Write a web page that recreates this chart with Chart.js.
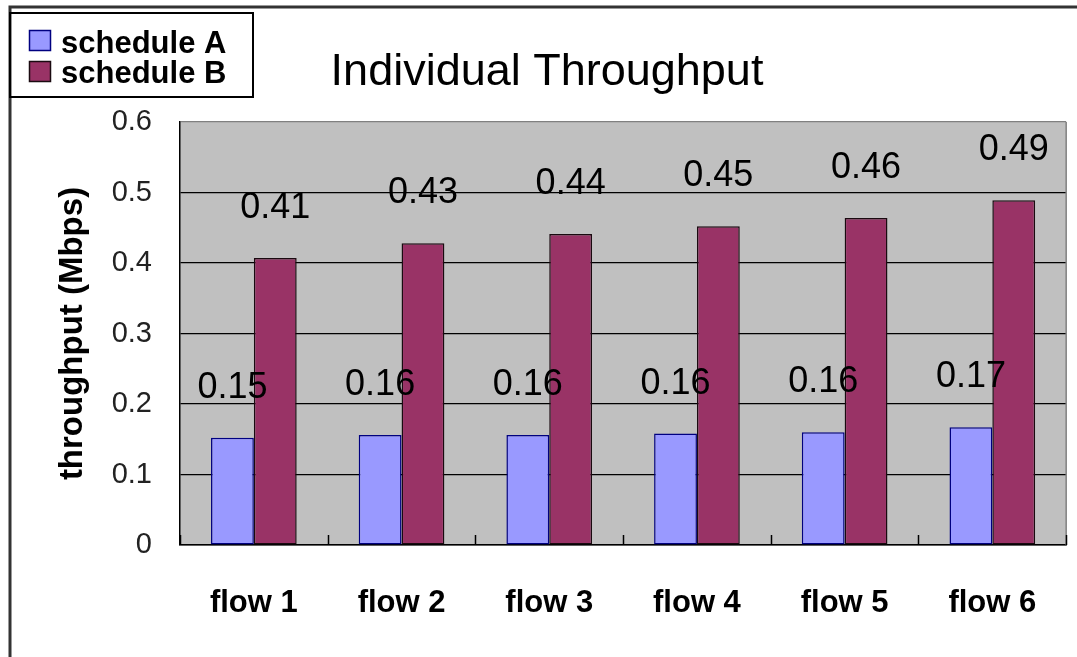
<!DOCTYPE html>
<html><head><meta charset="utf-8">
<script src="https://cdn.jsdelivr.net/npm/chart.js@4.4.1/dist/chart.umd.min.js"></script>
<style>html,body{margin:0;padding:0;background:#fff;} #wrap{width:1077px;height:657px;position:relative;}</style>
</head><body><div id="wrap"><canvas id="c"></canvas></div>
<script>
const categories = ['flow 1', 'flow 2', 'flow 3', 'flow 4', 'flow 5', 'flow 6'];
const seriesNames = ['schedule A', 'schedule B'];
const scheduleA = [0.152, 0.156, 0.156, 0.158, 0.160, 0.167];
const scheduleB = [0.407, 0.428, 0.441, 0.452, 0.464, 0.489];
const yTickLabels = ['0', '0.1', '0.2', '0.3', '0.4', '0.5', '0.6'];
const chartTitle = 'Individual Throughput';
const yAxisTitle = 'throughput (Mbps)';

const FONT = '"Liberation Sans", Arial, sans-serif';

const decorPlugin = {
  id: 'decor',
  beforeDraw(chart) {
    const {ctx, chartArea: a} = chart;
    ctx.save();
    ctx.fillStyle = '#fff';
    ctx.fillRect(0, 0, chart.width, chart.height);
    ctx.fillStyle = '#C0C0C0';
    ctx.fillRect(a.left, a.top, a.right - a.left, a.bottom - a.top);
    ctx.restore();
  },
  afterDatasetsDraw(chart) {
    const {ctx, chartArea: a} = chart;
    ctx.save();
    // right plot border (gray)
    ctx.strokeStyle = '#808080';
    ctx.lineWidth = 1.5;
    ctx.beginPath();
    ctx.moveTo(a.right, a.top);
    ctx.lineTo(a.right, a.bottom);
    ctx.stroke();
    // category boundary tick marks (inside, from baseline up)
    const xs = chart.scales.x;
    const half = (xs.getPixelForValue(1) - xs.getPixelForValue(0)) / 2;
    ctx.strokeStyle = '#000';
    ctx.lineWidth = 1.5;
    for (let i = 0; i <= categories.length; i++) {
      const px = Math.round(xs.getPixelForValue(0) - half + i * 2 * half) + 0.5;
      ctx.beginPath();
      ctx.moveTo(px, a.bottom);
      ctx.lineTo(px, a.bottom - 10);
      ctx.stroke();
    }
    // data labels
    ctx.font = '36px ' + FONT;
    ctx.fillStyle = '#000';
    ctx.textAlign = 'center';
    ctx.textBaseline = 'middle';
    chart.data.datasets.forEach((ds, i) => {
      const meta = chart.getDatasetMeta(i);
      meta.data.forEach((bar, j) => {
        ctx.fillText(ds.data[j].toFixed(2), bar.x, bar.y - 50);
      });
    });
    ctx.restore();
  },
  afterDraw(chart) {
    const {ctx} = chart;
    ctx.save();
    // outer frame (top and left)
    ctx.strokeStyle = '#333';
    ctx.lineWidth = 3;
    ctx.beginPath();
    ctx.moveTo(10, 657);
    ctx.lineTo(10, 7);
    ctx.lineTo(1077, 7);
    ctx.stroke();
    // title
    ctx.fillStyle = '#000';
    ctx.font = '45px ' + FONT;
    ctx.textAlign = 'center';
    ctx.textBaseline = 'alphabetic';
    ctx.fillText(chartTitle, 547, 85);
    // legend box
    ctx.strokeStyle = '#000';
    ctx.lineWidth = 2;
    ctx.strokeRect(10, 13, 243, 84);
    const ys = [30, 61];
    const bases = [53, 83];
    chart.data.datasets.forEach((ds, i) => {
      ctx.fillStyle = ds.backgroundColor;
      ctx.fillRect(29, ys[i], 22, 21);
      ctx.strokeStyle = ds.borderColor;
      ctx.lineWidth = 1.5;
      ctx.strokeRect(29.5, ys[i] + 0.5, 21, 20);
      ctx.fillStyle = '#000';
      ctx.font = 'bold 31px ' + FONT;
      ctx.textAlign = 'left';
      ctx.fillText(ds.label, 61, bases[i]);
    });
    ctx.restore();
  }
};

new Chart(document.getElementById('c'), {
  type: 'bar',
  data: {
    labels: categories,
    datasets: [
      { label: seriesNames[0], data: scheduleA, backgroundColor: '#9999FF', borderColor: '#000080', borderWidth: 1.5, borderSkipped: false },
      { label: seriesNames[1], data: scheduleB, backgroundColor: '#993366', borderColor: '#1a0a10', borderWidth: 1.5, borderSkipped: false }
    ]
  },
  options: {
    responsive: true,
    maintainAspectRatio: false,
    animation: false,
    layout: { padding: { top: 122, right: 9, bottom: 0, left: 0 } },
    plugins: { legend: { display: false }, title: { display: false }, tooltip: { enabled: false } },
    datasets: { bar: { categoryPercentage: 0.58, barPercentage: 1.0 } },
    scales: {
      x: {
        grid: { display: false, drawTicks: false },
        border: { display: true, color: '#000', width: 1.5 },
        ticks: { color: '#000', font: { family: FONT, size: 31, weight: 'bold' }, padding: 40, maxRotation: 0 },
        afterFit: s => { s.height = 112; }
      },
      y: {
        min: 0, max: 0.6,
        grid: { color: ctx => (ctx.tick && ctx.tick.value >= 0.6 - 1e-9) ? '#808080' : '#000', lineWidth: 1.2, drawTicks: false },
        border: { display: true, color: '#000', width: 1.5 },
        ticks: {
          stepSize: 0.1,
          padding: 28,
          color: '#222',
          font: { family: FONT, size: 29 },
          callback: (v, i) => yTickLabels[i]
        },
        title: { display: true, text: yAxisTitle, color: '#000', font: { family: FONT, size: 33, weight: 'bold' }, padding: { top: 53, bottom: 0 } },
        afterFit: s => { s.width = 180; }
      }
    }
  },
  plugins: [decorPlugin]
});
</script>
</body></html>
